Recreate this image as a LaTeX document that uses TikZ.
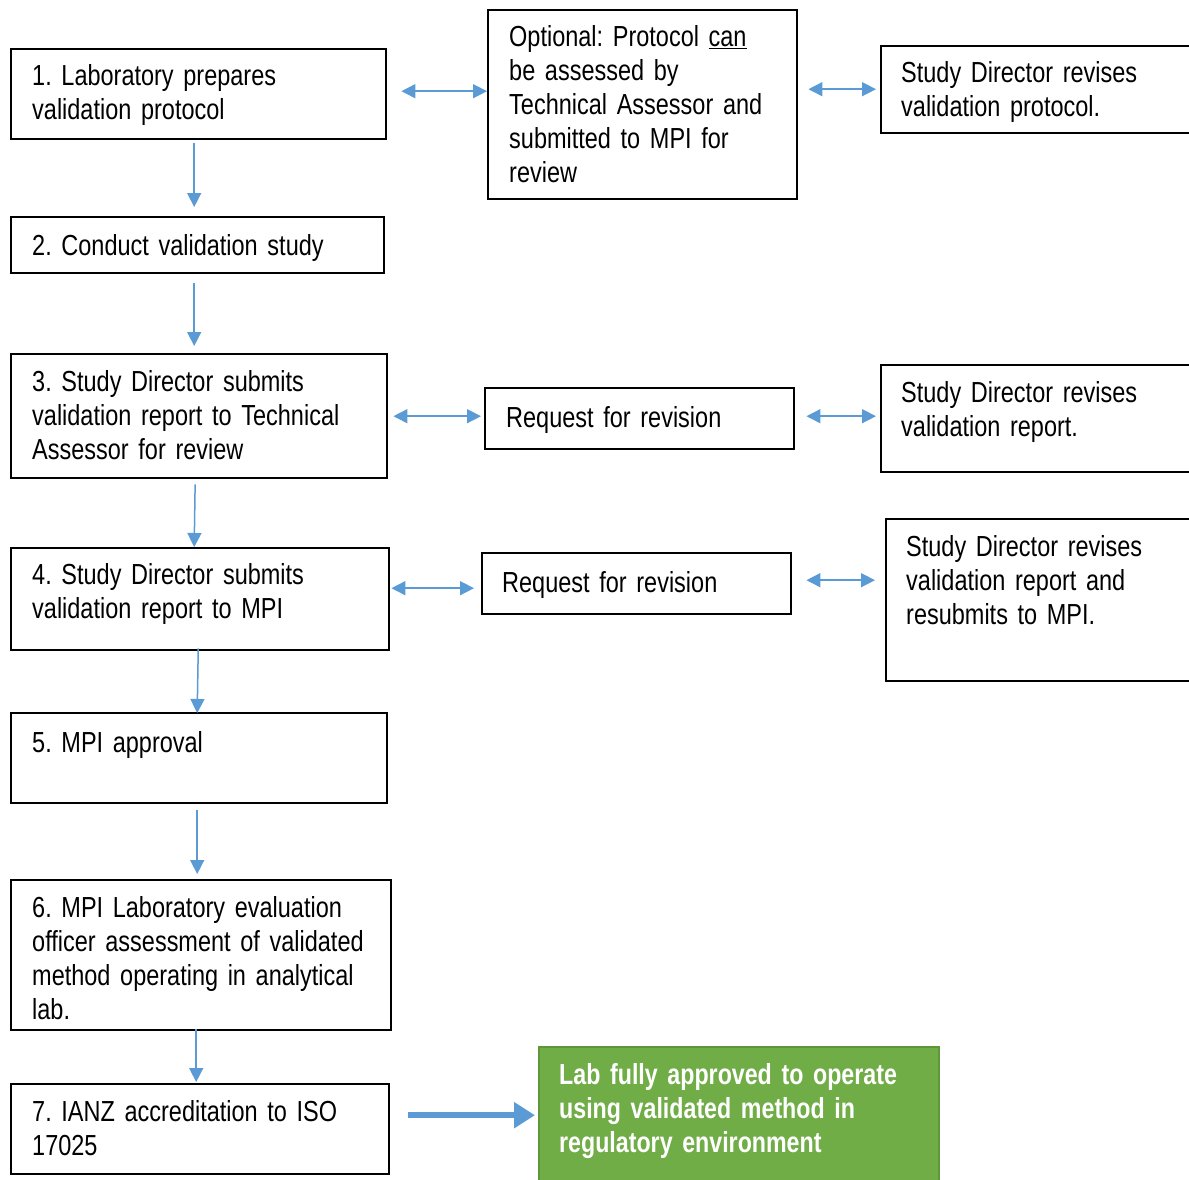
\documentclass[tikz,border=0pt]{standalone}
\usepackage{fontspec}
\setmainfont{Liberation Sans}[FakeStretch=0.81,BoldFeatures={FakeStretch=0.80}]
\frenchspacing
\usetikzlibrary{arrows.meta}
\definecolor{arrblue}{HTML}{5B9BD5}
\definecolor{lgreen}{HTML}{70AD47}
\definecolor{dgreen}{HTML}{5E963A}
\newcommand{\boxfont}{\fontsize{29}{34}\selectfont}
\tikzset{
  box/.style={draw=black, line width=2.4pt, fill=white, anchor=north west, inner sep=0pt},
  gbox/.style={draw=dgreen, line width=2.4pt, fill=lgreen, anchor=north west, inner sep=0pt},
  txt/.style={anchor=base west, inner sep=0pt, text width=380pt, align=left,
              font=\boxfont},
  gtxt/.style={txt, text=white, font=\boxfont\bfseries},
  arr/.style={draw=arrblue, line width=1.5pt, -{Triangle[length=14pt,width=14pt]}},
  darr/.style={draw=arrblue, line width=1.5pt, {Triangle[length=14pt,width=14pt]}-{Triangle[length=14pt,width=14pt]}},
  bigarr/.style={draw=arrblue, line width=6.5pt, -{Triangle[length=21pt,width=25pt]}},
}
\begin{document}
\begin{tikzpicture}[x=1pt,y=-1pt]
\useasboundingbox[fill=white] (0,0) rectangle (1189,1180);
% boxes
\node[box, minimum width=375pt, minimum height=90pt] (b1) at (10,48) {};
\node[box, minimum width=309pt, minimum height=189pt] (opt) at (487,9) {};
\node[box, minimum width=309pt, minimum height=87pt] (sdp) at (880,45) {};
\node[box, minimum width=373pt, minimum height=56pt] (b2) at (10,216) {};
\node[box, minimum width=376pt, minimum height=124pt] (b3) at (10,353) {};
\node[box, minimum width=309pt, minimum height=61pt] (r1) at (484,387) {};
\node[box, minimum width=309pt, minimum height=107pt] (sdr) at (880,364) {};
\node[box, minimum width=378pt, minimum height=102pt] (b4) at (10,547) {};
\node[box, minimum width=309pt, minimum height=61pt] (r2) at (481,552) {};
\node[box, minimum width=305pt, minimum height=162pt] (sdm) at (885,518) {};
\node[box, minimum width=376pt, minimum height=90pt] (b5) at (10,712) {};
\node[box, minimum width=380pt, minimum height=150pt] (b6) at (10,879) {};
\node[box, minimum width=378pt, minimum height=90pt] (b7) at (10,1083) {};
\node[gbox, minimum width=400pt, minimum height=140pt] (g) at (538,1046) {};
% texts
\node[txt] (t1) at (32,86) {1. Laboratory prepares\\validation protocol};
\node[txt] (topt) at (509,47) {Optional: Protocol \underline{can}\\be assessed by\\Technical Assessor and\\submitted to MPI for\\review};
\node[txt] (tsdp) at (901,83) {Study Director revises\\validation protocol.};
\node[txt] (t2) at (32,255) {2. Conduct validation study};
\node[txt] (t3) at (32,391) {3. Study Director submits\\validation report to Technical\\Assessor for review};
\node[txt] (tr1) at (506,427) {Request for revision};
\node[txt] (tsdr) at (901,402) {Study Director revises\\validation report.};
\node[txt] (t4) at (32,584) {4. Study Director submits\\validation report to MPI};
\node[txt] (tr2) at (502,592) {Request for revision};
\node[txt] (tsdm) at (906,556) {Study Director revises\\validation report and\\resubmits to MPI.};
\node[txt] (t5) at (32,752) {5. MPI approval};
\node[txt] (t6) at (32,917) {6. MPI Laboratory evaluation\\officer assessment of validated\\method operating in analytical\\lab.};
\node[txt] (t7) at (32,1121) {7. IANZ accreditation to ISO\\17025};
\node[gtxt] (tg) at (559,1084) {Lab fully approved to operate\\using validated method in\\regulatory environment};
% vertical arrows
\draw[arr, shorten <=3pt, shorten >=9pt] ([xshift=-4.5pt]b1.south) -- ([xshift=-3.5pt]b2.north);
\draw[arr, shorten <=9pt, shorten >=7pt] ([xshift=-3.5pt]b2.south) -- ([xshift=-5pt]b3.north);
\draw[arr, shorten <=5pt, shorten >=0pt] ([xshift=-4pt]b3.south) -- ([xshift=-6pt]b4.north);
\draw[arr, shorten <=-3pt, shorten >=-1pt] ([xshift=-2pt]b4.south) -- ([xshift=-2pt]b5.north);
\draw[arr, shorten <=6pt, shorten >=5pt] ([xshift=-2pt]b5.south) -- ([xshift=-4pt]b6.north);
\draw[arr, shorten <=-2pt, shorten >=1pt] ([xshift=-5pt]b6.south) -- ([xshift=-4pt]b7.north);
% horizontal double arrows
\draw[darr, shorten <=14pt, shorten >=0pt] ([yshift=3pt]b1.east) -- ([yshift=3pt]b1.east -| opt.west);
\draw[darr, shorten <=10pt, shorten >=4pt] ([yshift=0.5pt]sdp.west -| opt.east) -- ([yshift=0.5pt]sdp.west);
\draw[darr, shorten <=5pt, shorten >=3pt] (b3.east) -- (b3.east -| r1.west);
\draw[darr, shorten <=11pt, shorten >=4pt] ([yshift=2.5pt]r1.east) -- ([yshift=2.5pt]r1.east -| sdr.west);
\draw[darr, shorten <=1pt, shorten >=7pt] ([yshift=-4.5pt]r2.west -| b4.east) -- ([yshift=-4.5pt]r2.west);
\draw[darr, shorten <=14pt, shorten >=10pt] ([yshift=3.5pt]r2.east) -- ([yshift=3.5pt]r2.east -| sdm.west);
% big arrow
\draw[bigarr, shorten <=18pt, shorten >=3pt] ([yshift=14pt]b7.east) -- ([yshift=14pt]b7.east -| g.west);
\end{tikzpicture}
\end{document}
